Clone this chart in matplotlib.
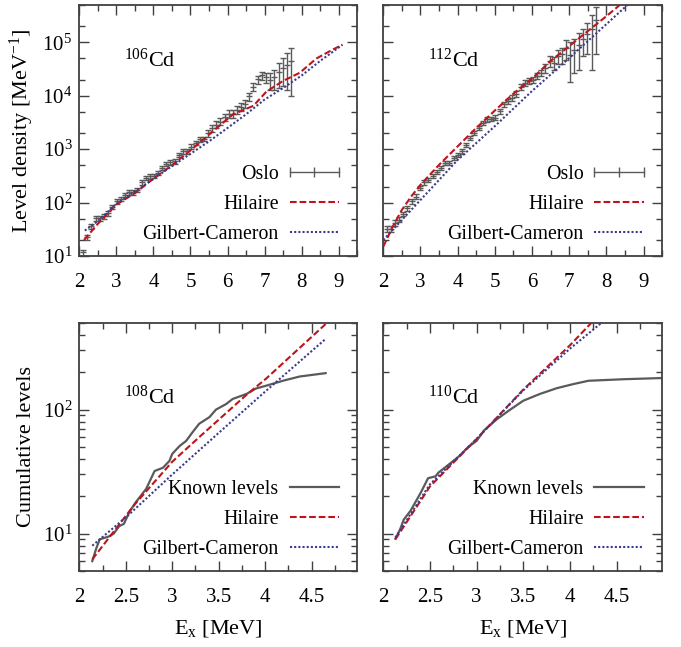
import matplotlib
matplotlib.use("Agg")
import matplotlib.pyplot as plt
from matplotlib.lines import Line2D
from matplotlib.legend_handler import HandlerLine2D
from matplotlib.ticker import (MultipleLocator, LogLocator, NullFormatter,
                               FormatStrFormatter, LogFormatterSciNotation)

plt.rcParams['font.family'] = ['Liberation Serif', 'DejaVu Serif']
plt.rcParams['mathtext.fontset'] = 'custom'
plt.rcParams['mathtext.rm'] = 'Liberation Serif'
plt.rcParams['mathtext.it'] = 'Liberation Serif:italic'
plt.rcParams['axes.edgecolor'] = '#404040'
plt.rcParams['axes.linewidth'] = 1.3

# ---- 106Cd level density (Oslo data, models)
e106 = [2.11, 2.22, 2.33, 2.45, 2.56, 2.67, 2.78, 2.89, 3.01, 3.12,
        3.23, 3.34, 3.46, 3.57, 3.68, 3.79, 3.90, 4.02, 4.13, 4.24,
        4.35, 4.46, 4.58, 4.69, 4.80, 4.91, 5.02, 5.14, 5.25, 5.36,
        5.47, 5.58, 5.70, 5.81, 5.92, 6.03, 6.14, 6.26, 6.37, 6.48,
        6.59, 6.70, 6.82, 6.93, 7.04, 7.15, 7.26, 7.38, 7.49, 7.60, 7.71]
rho106 = [11.7, 22.5, 36.5, 51, 51, 55, 63, 84, 105, 116,
          140, 155, 155, 174, 238, 287, 309, 319, 357, 443,
          537, 566, 590, 790, 910, 910, 1120, 1320, 1520, 1560,
          2000, 2500, 2900, 3300, 4000, 4650, 4650, 5500, 6300, 7100,
          9800, 14800, 20300, 24000, 22000, 20000, 22000, 28000, 33000, 38000, 45000]
err106 = [1.5, 2.5, 4, 5, 5, 5.5, 6, 8, 10, 11,
          13, 14, 14, 16, 22, 27, 29, 30, 33, 42,
          50, 55, 58, 75, 90, 90, 110, 130, 150, 160,
          300, 380, 450, 500, 650, 750, 750, 900, 1000, 1200,
          1700, 2600, 3500, 4000, 5000, 7000, 9000, 14000, 18000, 25000, 35000]
hil106_e = [2.13, 2.5, 3.0, 3.5, 4.0, 4.5, 5.0, 5.25, 5.6, 6.15, 6.7, 7.05,
            7.5, 7.95, 8.4, 8.85, 9.1]
hil106 = [20, 40, 92, 150, 280, 500, 950, 1320, 2150, 4500, 6500, 12000,
          19000, 27000, 50000, 74000, 90000]
gc106_e = [2.15, 2.5, 3.0, 3.5, 4.0, 4.5, 5.0, 5.5, 6.0, 6.5, 7.0, 7.5, 8.0, 8.5, 9.1]
gc106 = [30, 45, 95, 160, 280, 480, 820, 1400, 2500, 4500, 8500, 14000, 24000,
         45000, 90000]

# ---- 112Cd level density
e112 = [2.09, 2.20, 2.31, 2.43, 2.54, 2.65, 2.76, 2.88, 2.99, 3.10,
        3.21, 3.33, 3.44, 3.55, 3.66, 3.78, 3.89, 4.00, 4.11, 4.23,
        4.34, 4.45, 4.56, 4.68, 4.79, 4.90, 5.01, 5.13, 5.24, 5.35,
        5.46, 5.58, 5.69, 5.80, 5.91, 6.02, 6.13, 6.24, 6.36, 6.47,
        6.58, 6.69, 6.81, 6.92, 7.03, 7.14, 7.26, 7.37, 7.48, 7.60, 7.71]
rho112 = [32, 32, 42, 48, 61, 79, 105, 130, 187, 240,
          270, 320, 380, 440, 550, 560, 680, 790, 910, 1200,
          1620, 2000, 2500, 3100, 3600, 3700, 3900, 5100, 6900, 7900,
          9100, 11000, 14700, 17500, 18800, 20000, 23500, 27000, 33000, 44500,
          42000, 55000, 60000, 79000, 59000, 72000, 90000, 115000, 145000, 180000, 260000]
err112 = [4, 4, 5, 5, 6, 8, 10, 12, 17, 22,
          24, 28, 33, 38, 47, 48, 60, 70, 85, 110,
          150, 180, 220, 280, 330, 350, 380, 480, 650, 750,
          1100, 1400, 1800, 2100, 2300, 2600, 3200, 3800, 6000, 10000,
          11000, 16000, 20000, 32000, 41000, 45000, 60000, 60000, 85000, 150000, 200000]
hil112_e = [2.0, 2.25, 2.5, 2.75, 3.0, 3.5, 4.0, 4.5, 5.0, 5.5, 6.0, 6.5, 7.0,
            7.5, 8.0, 8.4]
hil112 = [15, 35, 73, 130, 215, 510, 1130, 2500, 5300, 11000, 21000, 45000,
          85000, 163000, 310000, 530000]
gc112_e = [2.0, 3.0, 4.0, 5.0, 6.0, 7.0, 8.0, 8.6]
gc112 = [20, 112, 630, 2700, 12300, 51000, 220000, 530000]

# ---- 108Cd cumulative levels
e108 = [2.14, 2.18, 2.22, 2.32, 2.37, 2.43, 2.48, 2.54, 2.61, 2.72, 2.81, 2.90,
        2.97, 3.00, 3.08, 3.15, 3.22, 3.29, 3.40, 3.47, 3.58, 3.65, 3.80, 3.90,
        4.01, 4.19, 4.37, 4.65]
n108 = [6, 7.5, 9, 9.5, 10, 11.5, 12, 15, 18, 23, 32, 34,
        38.6, 44, 51, 56, 66, 77, 87, 100, 111, 122, 134, 148,
        156, 171, 185, 197]
hil108_e = [2.14, 2.59, 3.0, 3.29, 3.8, 4.01, 4.65]
hil108 = [6.2, 17, 38, 60, 132, 178, 490]
gc108_e = [2.14, 2.5, 3.0, 3.5, 4.0, 4.65]
gc108 = [8, 13.5, 30, 65, 140, 372]

# ---- 110Cd cumulative levels
e110 = [2.13, 2.18, 2.22, 2.29, 2.38, 2.41, 2.48, 2.56, 2.59, 2.72, 2.82, 2.91,
        3.00, 3.08, 3.22, 3.36, 3.50, 3.68, 3.86, 4.04, 4.20, 4.58, 5.00]
n110 = [9.1, 10.8, 13, 15.2, 20, 22, 28, 29, 31, 37, 42.5, 50,
        56, 68, 84, 100, 118, 134, 149, 161, 171, 176, 180]
hil110_e = [2.13, 2.5, 3.0, 3.5, 4.0, 4.24]
hil110 = [9, 24, 58, 145, 330, 510]
gc110_e = [2.13, 2.5, 3.0, 3.5, 4.0, 4.35]
gc110 = [9.3, 25, 58, 143, 310, 510]

RED = '#c0141c'
BLUE = '#3c3c8c'
GRAY = '#5a5a5a'
FS = 14.3
TFS = 15
dash = (0, (3.2, 1.4))
dot = (0, (1, 1))

fig = plt.figure(figsize=(6.81, 6.47), dpi=100)
ax_tl = fig.add_axes([0.1164, 0.6043, 0.4082, 0.3879])
ax_tr = fig.add_axes([0.5628, 0.6043, 0.4097, 0.3879])
ax_bl = fig.add_axes([0.1164, 0.1175, 0.4082, 0.3833])
ax_br = fig.add_axes([0.5628, 0.1175, 0.4097, 0.3833])


def style(ax, top):
    ax.set_yscale('log')
    ax.tick_params(which='both', direction='in', top=True, right=True,
                   labelsize=TFS, color='#404040', width=1.0)
    ax.tick_params(which='major', length=7, pad=12)
    ax.tick_params(which='minor', length=4)
    ax.tick_params(axis='y', which='major', pad=5)
    if top:
        ax.set_xlim(2, 9.5)
        ax.set_ylim(10, 5e5)
        ax.xaxis.set_major_locator(MultipleLocator(1))
        ax.xaxis.set_minor_locator(MultipleLocator(0.5))
        ax.yaxis.set_minor_locator(LogLocator(subs=(2, 5)))
    else:
        ax.set_xlim(2, 4.99)
        ax.set_ylim(5, 500)
        ax.xaxis.set_major_locator(MultipleLocator(0.5))
        ax.xaxis.set_minor_locator(MultipleLocator(0.25))
        ax.xaxis.set_major_formatter(FormatStrFormatter('%g'))
        ax.yaxis.set_minor_locator(LogLocator(subs=(2, 3, 4, 5, 6, 7, 8, 9)))
    ax.yaxis.set_major_locator(LogLocator(subs=(1,)))
    ax.yaxis.set_major_formatter(LogFormatterSciNotation())
    ax.yaxis.set_minor_formatter(NullFormatter())


oslo_handle = Line2D([], [], color=GRAY, lw=1.0, marker='|', markersize=7,
                     markeredgewidth=1.0)


def add_legend(ax, handles, labels):
    hm = {oslo_handle: HandlerLine2D(numpoints=3, marker_pad=0)}
    ax.legend(handles, labels, loc='lower right', bbox_to_anchor=(0.935, 0.047),
              frameon=False, markerfirst=False, fontsize=FS, handlelength=2.5,
              handletextpad=0.55, labelspacing=0.56, borderpad=0,
              borderaxespad=0, handler_map=hm)


for ax, e, rho, err, he, hv, ge, gv, name in [
        (ax_tl, e106, rho106, err106, hil106_e, hil106, gc106_e, gc106, '106'),
        (ax_tr, e112, rho112, err112, hil112_e, hil112, gc112_e, gc112, '112')]:
    style(ax, True)
    ax.errorbar(e, rho, yerr=err, fmt='_', color=GRAY, ms=4, mew=1.0,
                elinewidth=1.0, capsize=2.5, capthick=1.0, zorder=2)
    lh, = ax.plot(he, hv, color=RED, lw=1.5, ls=dash, zorder=3)
    lg, = ax.plot(ge, gv, color=BLUE, lw=1.5, ls=dot, zorder=3)
    add_legend(ax, [oslo_handle, lh, lg], ['Oslo', 'Hilaire', 'Gilbert-Cameron'])
    ax.text(0.162, 0.755, r'$^{%s}$Cd' % name, transform=ax.transAxes,
            fontsize=16, va='baseline', ha='left')

for ax, e, n, he, hv, ge, gv, name in [
        (ax_bl, e108, n108, hil108_e, hil108, gc108_e, gc108, '108'),
        (ax_br, e110, n110, hil110_e, hil110, gc110_e, gc110, '110')]:
    style(ax, False)
    lk, = ax.plot(e, n, color=GRAY, lw=1.6, zorder=2)
    lh, = ax.plot(he, hv, color=RED, lw=1.5, ls=dash, zorder=3)
    lg, = ax.plot(ge, gv, color=BLUE, lw=1.5, ls=dot, zorder=3)
    add_legend(ax, [lk, lh, lg], ['Known levels', 'Hilaire', 'Gilbert-Cameron'])
    ax.text(0.162, 0.673, r'$^{%s}$Cd' % name, transform=ax.transAxes,
            fontsize=16, va='baseline', ha='left')
    ax.set_xlabel(r'E$_{\mathrm{x}}$ [MeV]', fontsize=16)
    ax.xaxis.set_label_coords(0.5, -0.19)

ax_tr.tick_params(labelleft=False)
ax_br.tick_params(labelleft=False)

ax_tl.set_ylabel(r'Level density [MeV$^{\mathrm{-1}}$]', fontsize=16)
ax_tl.yaxis.set_label_coords(-0.155, 0.5)
ax_bl.set_ylabel('Cumulative levels', fontsize=16)
ax_bl.yaxis.set_label_coords(-0.155, 0.5)

fig.savefig('out.png', dpi=100)
